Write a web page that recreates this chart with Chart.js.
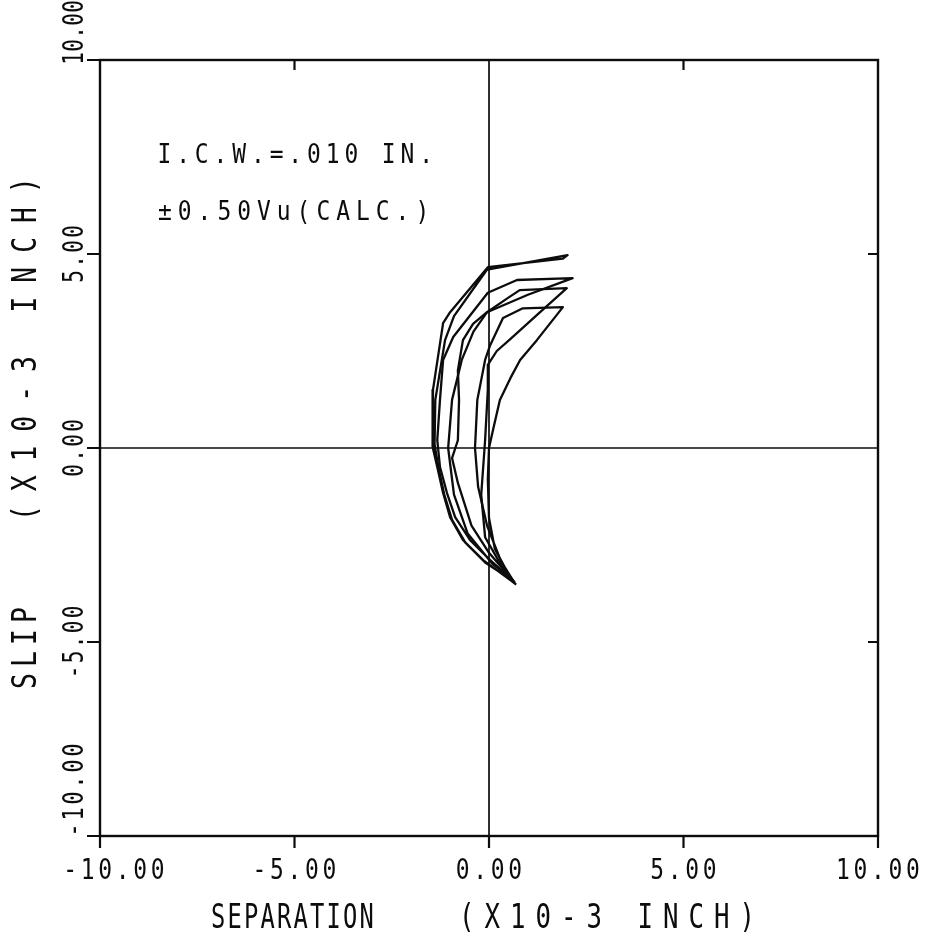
<!DOCTYPE html>
<html>
<head>
<meta charset="utf-8">
<title>Slip vs separation</title>
<script src="https://cdn.jsdelivr.net/npm/chart.js@4.4.1/dist/chart.umd.min.js"></script>
<style>
  html, body { margin: 0; padding: 0; background: #fff; }
  canvas { display: block; }
</style>
</head>
<body>
<canvas id="loopChart" width="933" height="941"></canvas>
<script>
// separation / slip readings (x10-3 inch), one pair of arrays per load cycle
const cycle1Sep  = [0.67, 0.50, 0.15, 0.00, -0.03, 0.00, 0.10, 0.28, 0.55, 0.80, 1.23, 1.90, 0.87, 0.36, 0.03, -0.10, -0.30, -0.36, -0.28, -0.05, 0.30, 0.64];
const cycle1Slip = [-3.48, -3.25, -2.60, -1.80, -0.80, 0.00, 0.45, 1.24, 1.80, 2.27, 2.78, 3.63, 3.60, 3.35, 2.65, 2.27, 1.24, 0.00, -1.00, -2.00, -2.90, -3.45];

const cycle2Sep  = [0.64, 0.30, -0.10, -0.20, -0.10, -0.03, -0.03, 0.20, 0.54, 1.20, 2.00, 0.79, 0.46, -0.05, -0.41, -0.67, -0.80, -0.77, -0.80, -0.95, -0.80, -0.45, 0.00, 0.60];
const cycle2Slip = [-3.45, -3.00, -2.30, -1.20, 0.20, 1.50, 2.14, 2.50, 2.80, 3.40, 4.12, 4.07, 3.85, 3.50, 3.20, 2.78, 2.00, 1.24, 0.20, -0.26, -0.90, -2.00, -2.70, -3.40];

const cycle3Sep  = [0.60, 0.10, -0.55, -0.90, -1.05, -0.95, -0.70, -0.40, -0.05, 1.00, 2.15, 0.72, -0.03, -0.92, -1.18, -1.26, -1.33, -1.26, -1.08, -0.87, -0.49, 0.03, 0.62];
const cycle3Slip = [-3.40, -3.00, -2.20, -1.20, 0.00, 1.24, 2.27, 3.00, 3.50, 3.95, 4.38, 4.33, 4.00, 2.86, 2.27, 1.24, 0.20, -0.49, -1.16, -1.78, -2.37, -2.89, -3.42];

const cycle4Sep  = [0.62, -0.10, -0.60, -0.95, -1.15, -1.30, -1.40, -1.38, -1.13, -0.90, -0.05, 2.02, 1.90, -0.03, -1.00, -1.18, -1.44, -1.46, -1.44, -1.33, -1.18, -1.00, -0.67, -0.15, 0.54, 0.70];
const cycle4Slip = [-3.42, -2.95, -2.45, -1.85, -1.20, -0.50, 0.10, 1.24, 2.78, 3.40, 4.60, 4.97, 4.88, 4.66, 3.50, 3.22, 1.50, 0.46, 0.03, -0.49, -1.16, -1.78, -2.37, -2.89, -3.40, -3.52];

const tickValues = [-10, -5, 0, 5, 10];
const tickLabels = ["-10.00", "-5.00", "0.00", "5.00", "10.00"];
const xTitle = ["SEPARATION", "(X10-3 INCH)"];
const yTitle = ["SLIP", "(X10-3 INCH)"];
const noteLines = ["I.C.W.=.010 IN.", "±0.50Vu(CALC.)"];

const INK = "#0c0c0c";
const MONO = "DejaVu Sans Mono";

function toPoints(xs, ys) {
  return xs.map((x, i) => ({ x: x, y: ys[i] }));
}

function cycle(xs, ys) {
  return {
    data: toPoints(xs, ys),
    showLine: true,
    borderColor: INK,
    borderWidth: 2.3,
    borderJoinStyle: "round",
    pointRadius: 0,
    tension: 0,
    fill: false,
  };
}

// plotter style text: every character sits in a fixed-width cell,
// glyphs squeezed sideways by sx
function drawSpaced(ctx, text, x, y, pitch, align, sx) {
  const chars = Array.from(text);
  let start = x;
  if (align === "center") start = x - (chars.length * pitch) / 2;
  if (align === "right") start = x - chars.length * pitch;
  ctx.textAlign = "center";
  chars.forEach((ch, i) => {
    ctx.save();
    ctx.translate(start + pitch * (i + 0.5), y);
    ctx.scale(sx || 1, 1);
    ctx.fillText(ch, 0, 0);
    ctx.restore();
  });
}

const framePlugin = {
  id: "frame",
  beforeDatasetsDraw(chart) {
    const { ctx, chartArea: a, scales } = chart;
    const x0 = scales.x.getPixelForValue(0);
    const y0 = scales.y.getPixelForValue(0);
    ctx.save();
    ctx.strokeStyle = INK;

    // zero lines
    ctx.lineWidth = 1.7;
    ctx.beginPath();
    ctx.moveTo(a.left, y0); ctx.lineTo(a.right, y0);
    ctx.moveTo(x0, a.top); ctx.lineTo(x0, a.bottom);
    ctx.stroke();

    // box
    ctx.lineWidth = 2.4;
    ctx.strokeRect(a.left, a.top, a.right - a.left, a.bottom - a.top);

    // tick marks: outward on left and bottom, inward on top and right
    ctx.lineWidth = 2.2;
    ctx.beginPath();
    tickValues.forEach((v) => {
      const px = scales.x.getPixelForValue(v);
      const py = scales.y.getPixelForValue(v);
      ctx.moveTo(px, a.bottom); ctx.lineTo(px, a.bottom + 12);
      ctx.moveTo(a.left, py); ctx.lineTo(a.left - 13, py);
      if (v !== 0 && Math.abs(v) !== 10) {
        ctx.moveTo(px, a.top); ctx.lineTo(px, a.top + 10);
        ctx.moveTo(a.right, py); ctx.lineTo(a.right - 10, py);
      }
    });
    ctx.stroke();
    ctx.restore();
  },
  afterDraw(chart) {
    const { ctx, chartArea: a, scales } = chart;
    ctx.save();
    ctx.fillStyle = INK;
    ctx.textBaseline = "alphabetic";

    // x tick labels
    ctx.font = "28px " + MONO;
    tickValues.forEach((v, i) => {
      let px = scales.x.getPixelForValue(v);
      if (v === -10) px += 14;
      drawSpaced(ctx, tickLabels[i], px, a.bottom + 43, 17.5, "center", 0.82);
    });

    // y tick labels, rotated to read upward
    tickValues.forEach((v, i) => {
      const py = scales.y.getPixelForValue(v);
      ctx.save();
      ctx.translate(a.left - 17, py);
      ctx.rotate(-Math.PI / 2);
      const label = tickLabels[i];
      if (v === 10) drawSpaced(ctx, label, -5, 0, 13, "left", 0.75);
      else if (v === -10) drawSpaced(ctx, label, -2, 0, 16, "left", 0.8);
      else drawSpaced(ctx, label, 0, 0, 15, "center", 0.75);
      ctx.restore();
    });

    // axis titles
    ctx.font = "33px " + MONO;
    drawSpaced(ctx, xTitle[0], 210, a.bottom + 92, 16.5, "left", 0.72);
    drawSpaced(ctx, xTitle[1], 454, a.bottom + 92, 25.5, "left", 0.78);

    ctx.save();
    ctx.translate(a.left - 64, 0);
    ctx.rotate(-Math.PI / 2);
    drawSpaced(ctx, yTitle[0], -692, 0, 22, "left", 0.8);
    drawSpaced(ctx, yTitle[1], -528, 0, 29.8, "left", 0.8);
    ctx.restore();

    // specimen note
    ctx.font = "27px " + MONO;
    drawSpaced(ctx, noteLines[0], 155, 163, 18.7, "left", 0.85);
    drawSpaced(ctx, noteLines[1], 155, 220, 19.8, "left", 0.85);
    ctx.restore();
  },
};

const ctx = document.getElementById("loopChart").getContext("2d");
const loopChart = new Chart(ctx, {
  type: "scatter",
  data: {
    datasets: [
      cycle(cycle1Sep, cycle1Slip),
      cycle(cycle2Sep, cycle2Slip),
      cycle(cycle3Sep, cycle3Slip),
      cycle(cycle4Sep, cycle4Slip),
    ],
  },
  options: {
    responsive: false,
    devicePixelRatio: 1,
    animation: false,
    layout: {
      padding: { left: 100, right: 55, top: 60, bottom: 105 },
    },
    plugins: {
      legend: { display: false },
      tooltip: { enabled: false },
    },
    scales: {
      x: { type: "linear", min: -10, max: 10, display: false },
      y: { type: "linear", min: -10, max: 10, display: false },
    },
  },
  plugins: [framePlugin],
});
</script>
</body>
</html>
